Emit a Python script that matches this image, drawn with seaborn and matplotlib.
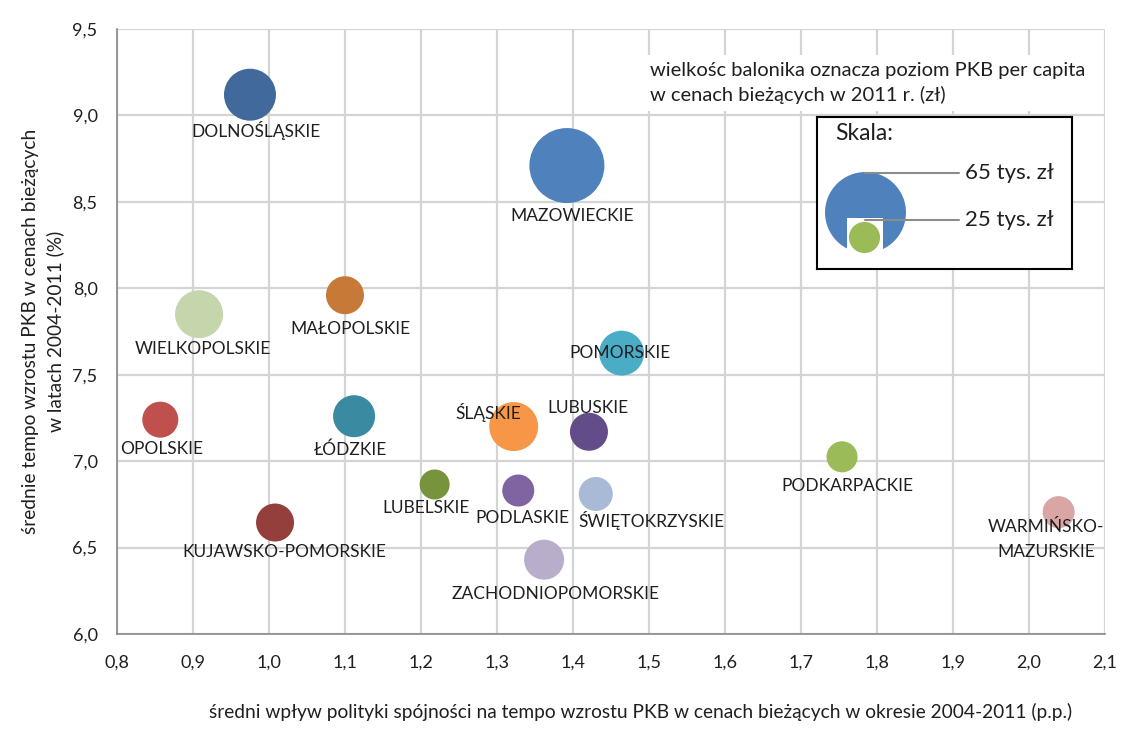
import numpy as np
import pandas as pd
import matplotlib
matplotlib.use("Agg")
import matplotlib.pyplot as plt
import seaborn as sns
from matplotlib.patches import Rectangle
from matplotlib.ticker import FuncFormatter, MultipleLocator

# ---------------- data ----------------
regions = ["DOLNOŚLĄSKIE", "MAZOWIECKIE", "WIELKOPOLSKIE", "MAŁOPOLSKIE",
           "POMORSKIE", "OPOLSKIE", "ŁÓDZKIE", "KUJAWSKO-POMORSKIE",
           "ŚLĄSKIE", "LUBUSKIE", "LUBELSKIE", "PODLASKIE",
           "ŚWIĘTOKRZYSKIE", "ZACHODNIOPOMORSKIE", "PODKARPACKIE",
           "WARMIŃSKO-\nMAZURSKIE"]
cohesion_impact = [0.975, 1.392, 0.908, 1.100, 1.464, 0.857, 1.112, 1.008,
                   1.322, 1.421, 1.218, 1.328, 1.430, 1.362, 1.754, 2.039]
gdp_growth = [9.12, 8.71, 7.85, 7.96, 7.625, 7.24, 7.26, 6.645,
              7.20, 7.17, 6.865, 6.83, 6.81, 6.43, 7.025, 6.705]
gdp_per_capita = [41.7, 60.2, 38.5, 30.5, 36.0, 28.9, 33.7, 30.5,
                  39.3, 30.5, 24.1, 25.7, 27.3, 32.1, 24.9, 25.7]
legend_values = [65, 25]
legend_labels = ["65 tys. zł", "25 tys. zł"]

colors = ["#41699C", "#4F81BD", "#C5D6AC", "#C77A37", "#4BACC6", "#C0504D",
          "#3A8BA1", "#953F3C", "#F79646", "#624D89", "#77933C", "#8064A2",
          "#A9BAD7", "#B8AECB", "#9BBB59", "#D9A5A5"]

# label offsets (points) relative to bubble centre -- layout only
label_offsets = [(4, -26), (4, -36), (3, -25), (4, -24), (-1, 0), (1, -21),
                 (-3, -24), (7, -21), (-18, 10), (-1, 17), (-6, -17), (3, -20),
                 (40, -19), (8, -25), (4, -21), (-9, -20)]

# ---------------- figure ----------------
DPI = 100
FONT = ["Lato", "DejaVu Sans"]
sns.set_theme(style="whitegrid")
plt.rcParams["font.family"] = FONT
TXT = "#1F1F1F"

fig = plt.figure(figsize=(11.28, 7.29), dpi=DPI)
ax = fig.add_axes([0.1037, 0.1303, 0.8759, 0.8299])

# bubble diameter proportional to value (Excel "width" scaling)
px_per_unit = 81.0 / 65.0  # diameter px per tys. zł
def to_s(v):
    d_pt = v * px_per_unit * 72.0 / DPI
    return d_pt ** 2

df = pd.DataFrame({"region": regions, "x": cohesion_impact, "y": gdp_growth,
                   "gdp": gdp_per_capita})
df["s"] = df["gdp"].apply(to_s)
smin, smax = df["s"].min(), df["s"].max()

sns.scatterplot(data=df, x="x", y="y", hue="region", size="s",
                sizes=(smin, smax), size_norm=(smin, smax),
                palette=dict(zip(regions, colors)), linewidth=0,
                alpha=1.0, legend=False, ax=ax, zorder=3)

for (name, x, y), (dx, dy) in zip(zip(regions, cohesion_impact, gdp_growth), label_offsets):
    ax.annotate(name, (x, y), xytext=(dx, dy), textcoords="offset points",
                ha="center", va="center", fontsize=12.5, color=TXT, zorder=5,
                linespacing=1.7)

ax.set_xlim(0.8, 2.1)
ax.set_ylim(6.0, 9.5)
ax.xaxis.set_major_locator(MultipleLocator(0.1))
ax.yaxis.set_major_locator(MultipleLocator(0.5))
ax.xaxis.set_major_formatter(FuncFormatter(lambda v, p: f"{v:.1f}".replace(".", ",")))
ax.yaxis.set_major_formatter(FuncFormatter(lambda v, p: f"{v:.1f}".replace(".", ",")))
ax.grid(True, color="#D4D4D4", linewidth=1.6)
ax.set_axisbelow(True)
for side in ["top", "right"]:
    ax.spines[side].set_visible(False)
for side in ["left", "bottom"]:
    ax.spines[side].set_color("#888888")
    ax.spines[side].set_linewidth(1.2)
ax.tick_params(axis="both", which="major", length=5, width=1.0, color="#888888",
               labelsize=13, labelcolor=TXT, direction="out")
ax.tick_params(axis="x", pad=10)
ax.tick_params(axis="y", pad=9)

ax.set_xlabel("średni wpływ polityki spójności na tempo wzrostu PKB w cenach bieżących w okresie 2004-2011 (p.p.)",
              fontsize=13.8, color=TXT, labelpad=23)
ax.xaxis.label.set_x(0.53)
ax.set_ylabel("średnie tempo wzrostu PKB w cenach bieżących\nw latach 2004-2011 (%)",
              fontsize=13.8, color=TXT, labelpad=6, linespacing=1.45)

# note
fig.text(650 / 1128, 1 - 83 / 729,
         "wielkośc balonika oznacza poziom PKB per capita\nw cenach bieżących w 2011 r. (zł)",
         fontsize=14.5, color=TXT, ha="left", va="center", linespacing=1.5,
         bbox=dict(facecolor="white", edgecolor="none", pad=5), zorder=6)

# scale legend box
lax = fig.add_axes([817 / 1128, 1 - 269 / 729, 255 / 1128, 152 / 729])
lax.set_xlim(0, 255)
lax.set_ylim(152, 0)
lax.set_xticks([])
lax.set_yticks([])
lax.set_facecolor("white")
lax.grid(False)
for sp in lax.spines.values():
    sp.set_visible(True)
    sp.set_color("black")
    sp.set_linewidth(1.5)
lax.text(18, 17, "Skala:", fontsize=16.5, color=TXT, va="center", ha="left")
lax.scatter([48], [95], s=[to_s(legend_values[0])], color="#4F81BD", linewidth=0, zorder=2)
lax.add_patch(Rectangle((30, 101), 36, 40, facecolor="white", edgecolor="none", zorder=3))
lax.scatter([47], [120], s=[to_s(legend_values[1])], color="#9BBB59", linewidth=0, zorder=4)
for yy, lab in zip([56, 103], legend_labels):
    lax.plot([48, 142], [yy, yy], color="#8C8C8C", linewidth=1.5, zorder=5)
    lax.text(148, yy, lab, fontsize=16, color=TXT, va="center", ha="left")

fig.savefig("out.png", dpi=DPI)
